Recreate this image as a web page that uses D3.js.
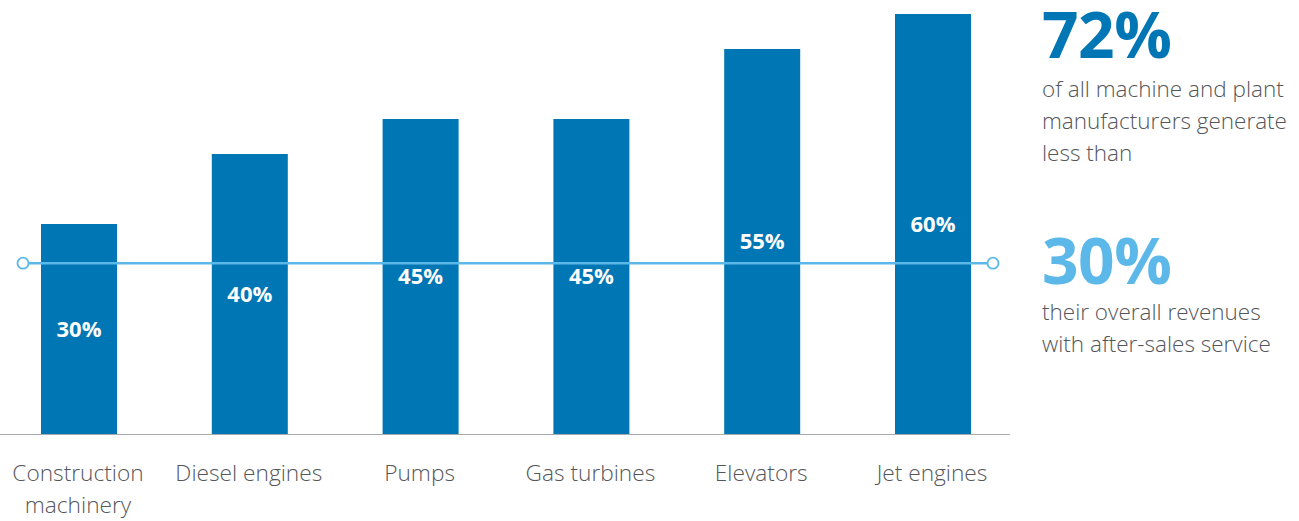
<!DOCTYPE html>
<html><head><meta charset="utf-8">
<script src="https://cdn.jsdelivr.net/npm/d3@7"></script>
<style>
html,body{margin:0;padding:0;background:#fff;}
svg{display:block;font-family:"Open Sans",sans-serif;}
</style></head>
<body>
<svg id="c" width="1299" height="521"></svg>
<script>
const categories = ["Construction machinery","Diesel engines","Pumps","Gas turbines","Elevators","Jet engines"];
const categoryLines = [["Construction","machinery"],["Diesel engines"],["Pumps"],["Gas turbines"],["Elevators"],["Jet engines"]];
const values = [30,40,45,45,55,60];
const valueLabels = ["30%","40%","45%","45%","55%","60%"];
const referenceValue = 24.4;
const headline1 = "72%";
const text1 = ["of all machine and plant","manufacturers generate","less than"];
const headline2 = "30%";
const text2 = ["their overall revenues","with after-sales service"];

const svg = d3.select("#c");
const dark = "#0076b4", light = "#5cb8e9", gray = "#54565a";

const x = d3.scalePoint().domain(categories).range([79, 933]);
const y = d3.scaleLinear().domain([0,60]).range([434, 14]);
const bw = 76;

svg.selectAll("rect.bar").data(values).join("rect")
  .attr("class","bar")
  .attr("x",(d,i)=>x(categories[i]) - bw/2)
  .attr("width",bw)
  .attr("y",d=>y(d))
  .attr("height",d=>y(0)-y(d))
  .attr("fill",dark);

// baseline axis
svg.append("line").attr("x1",0).attr("x2",1010).attr("y1",y(0)+0.5).attr("y2",y(0)+0.5)
  .attr("stroke","#a7a9ac").attr("stroke-width",1.2);

// reference line
const ry = y(referenceValue);
svg.append("line").attr("x1",23).attr("x2",993).attr("y1",ry).attr("y2",ry)
  .attr("stroke",light).attr("stroke-width",2.5);
svg.selectAll("circle.end").data([23,993]).join("circle")
  .attr("class","end").attr("cx",d=>d).attr("cy",ry).attr("r",5.5)
  .attr("fill","#fff").attr("stroke",light).attr("stroke-width",1.8);

// value labels
svg.selectAll("text.val").data(values).join("text")
  .attr("class","val")
  .attr("x",(d,i)=>x(categories[i]))
  .attr("y",d=>(y(d)+y(0))/2)
  .attr("dy","0.36em")
  .attr("text-anchor","middle")
  .attr("fill","#fff").attr("font-weight",700).attr("font-size",22)
  .text((d,i)=>valueLabels[i]);

// category labels
categories.forEach((c,i)=>{
  const t = svg.append("text").attr("text-anchor","middle")
    .attr("fill",gray).attr("font-weight",300).attr("font-size",22.7);
  categoryLines[i].forEach((ln,j)=>{
    t.append("tspan").attr("x",x(c)-1).attr("y",481+j*32).text(ln);
  });
});

// right panel
svg.append("text").attr("x",1042).attr("y",58).attr("fill",dark)
  .attr("font-weight",700).attr("font-size",64).attr("letter-spacing",-0.5).text(headline1);
text1.forEach((t,i)=>svg.append("text").attr("x",1042).attr("y",97+i*32)
  .attr("fill",gray).attr("font-weight",300).attr("font-size",22.5).text(t));
svg.append("text").attr("x",1042).attr("y",284).attr("fill",light)
  .attr("font-weight",700).attr("font-size",64).attr("letter-spacing",-0.5).text(headline2);
text2.forEach((t,i)=>svg.append("text").attr("x",1042).attr("y",320+i*32)
  .attr("fill",gray).attr("font-weight",300).attr("font-size",22.5).text(t));
</script>
</body></html>
